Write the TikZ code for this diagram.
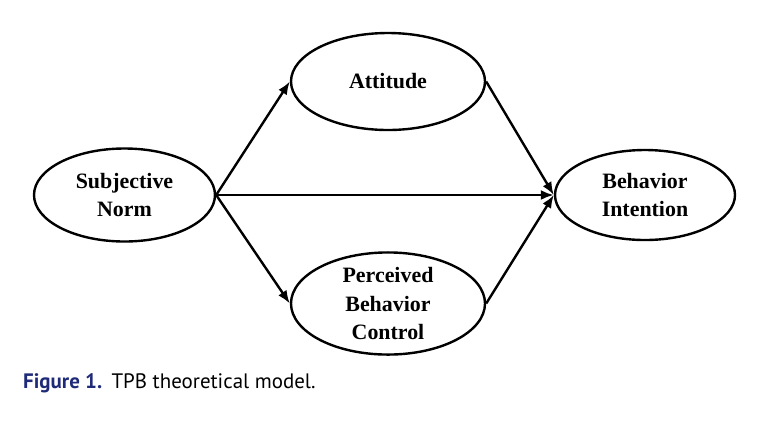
\documentclass[tikz,border=0pt]{standalone}
\usepackage{fontspec}
\setmainfont{Liberation Serif}
\newfontfamily\capfont{PT Sans}
\usetikzlibrary{shapes.geometric,arrows.meta}
\definecolor{capblue}{HTML}{1F2A78}
\begin{document}
\begin{tikzpicture}[x=1bp,y=-1bp,
  oval/.style={draw,line width=2.4bp,ellipse,inner sep=0pt,align=center,
    font=\fontsize{22}{28.5}\selectfont\bfseries},
  link/.style={line width=2.4bp,-{Latex[length=13bp,width=10bp]}},
  plain/.style={line width=2.4bp}]
\useasboundingbox (0,0) rectangle (780,429);
\node[oval,minimum width=181bp,minimum height=93bp] (sn) at (124.5,195) {Subjective\\Norm};
\node[oval,minimum width=194bp,minimum height=97bp] (att) at (388,81.5) {Attitude};
\node[oval,minimum width=194bp,minimum height=93bp] (pbc) at (388,303.5) {Perceived\\Behavior\\Control};
\node[oval,minimum width=180bp,minimum height=90bp] (bi) at (645,195) {Behavior\\Intention};
\draw[link] (sn.east) -- (att.west);
\draw[link] (sn.east) -- (bi.west);
\draw[link] (sn.east) -- (pbc.west);
\draw[link] (att.east) -- (bi.west);
\draw[link] (pbc.east) -- (bi.west);
\node[anchor=base west,inner sep=0pt,font=\capfont\fontsize{21}{25}\selectfont] (cap) at (23,388)
  {\textcolor{capblue}{\bfseries Figure 1.}\hspace{0.45em}TPB theoretical model.};
\end{tikzpicture}
\end{document}
